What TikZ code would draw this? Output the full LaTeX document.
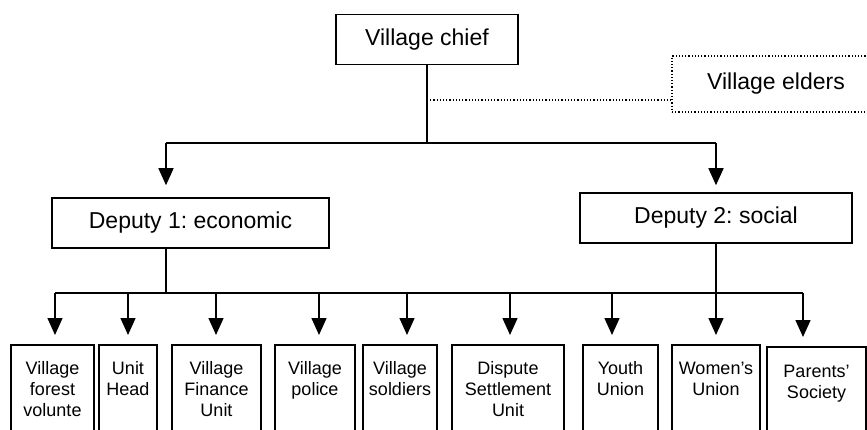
\documentclass[tikz,border=0pt]{standalone}
\usepackage{fontspec}
\setmainfont{Liberation Sans}
\usetikzlibrary{arrows.meta}
\frenchspacing

\begin{document}
\begin{tikzpicture}[x=1pt,y=-1pt,line width=1.5pt,>={Triangle[length=17pt,width=15pt]},
 font=\fontsize{23}{27}\selectfont,
 head/.style={draw,minimum height=50pt,inner sep=0pt},
 elderbox/.style={draw,dotted,line width=1.2pt,minimum height=56pt,minimum width=208pt},
 unit/.style={draw,anchor=north,align=center,inner xsep=0pt,inner ysep=17pt,
   text height=13pt,text depth=70pt,font=\fontsize{18}{21}\selectfont},
 unitplain/.style={},
 unitthick/.style={line width=2.3pt,yshift=-2pt}]
\useasboundingbox (0,0) rectangle (867,430);
\clip (0,0) rectangle (867,430);
% heads
\node[head,minimum width=182pt] (chief) at (427,39.5) {Village chief};
\node[elderbox] (elders) at (776,84) {Village elders};
\node[head,minimum width=277pt] (dep1) at (190.5,223) {Deputy 1: economic};
\node[head,minimum width=272pt] (dep2) at (716,218) {Deputy 2: social};
% chief to deputies
\coordinate (tl) at (166,143);
\coordinate (tr) at (716,143);
\coordinate (ej) at (427,100);
\draw (chief.south) -- (chief.south |- tl);
\draw[dotted,line width=1.2pt] (ej) -- (ej -| elders.west);
\draw (tl) -- (tr);
\draw[->,shorten >=12pt] (tl) -- (tl |- dep1.north);
\draw[->,shorten >=7pt] (tr) -- (tr |- dep2.north);
% deputies to units
\coordinate (bl) at (55,293);
\coordinate (br) at (803,293);
\coordinate (d1) at (166,293);
\draw (dep1.south -| d1) -- (d1);
\draw (dep2.south) -- (dep2.south |- d1);
\draw (bl) -- (br);
\foreach \n/\cx/\w/\ax/\txt/\opt in {
  u1/52.5/83/55/{Village\\forest\\volunte}/unitplain,
  u2/128/58/128/{Unit\\Head}/unitplain,
  u3/216.5/89/216/{Village\\Finance\\Unit}/unitplain,
  u4/315/80/319/{Village\\police}/unitplain,
  u5/400/74/407/{Village\\soldiers}/unitplain,
  u6/508/112/510/{Dispute\\Settlement\\Unit}/unitplain,
  u7/620.5/75/612/{Youth\\Union}/unitplain,
  u8/716/88/716/{Women’s\\Union}/unitplain,
  u9/816.5/99/803/{Parents’\\Society}/unitthick}
{
  \node[unit,text width=\w pt,\opt] (\n) at (\cx,344) {\txt};
  \coordinate (a\n) at (\ax,293);
  \draw[->,shorten >=9pt] (a\n) -- (a\n |- \n.north);
}
\end{tikzpicture}
\end{document}
